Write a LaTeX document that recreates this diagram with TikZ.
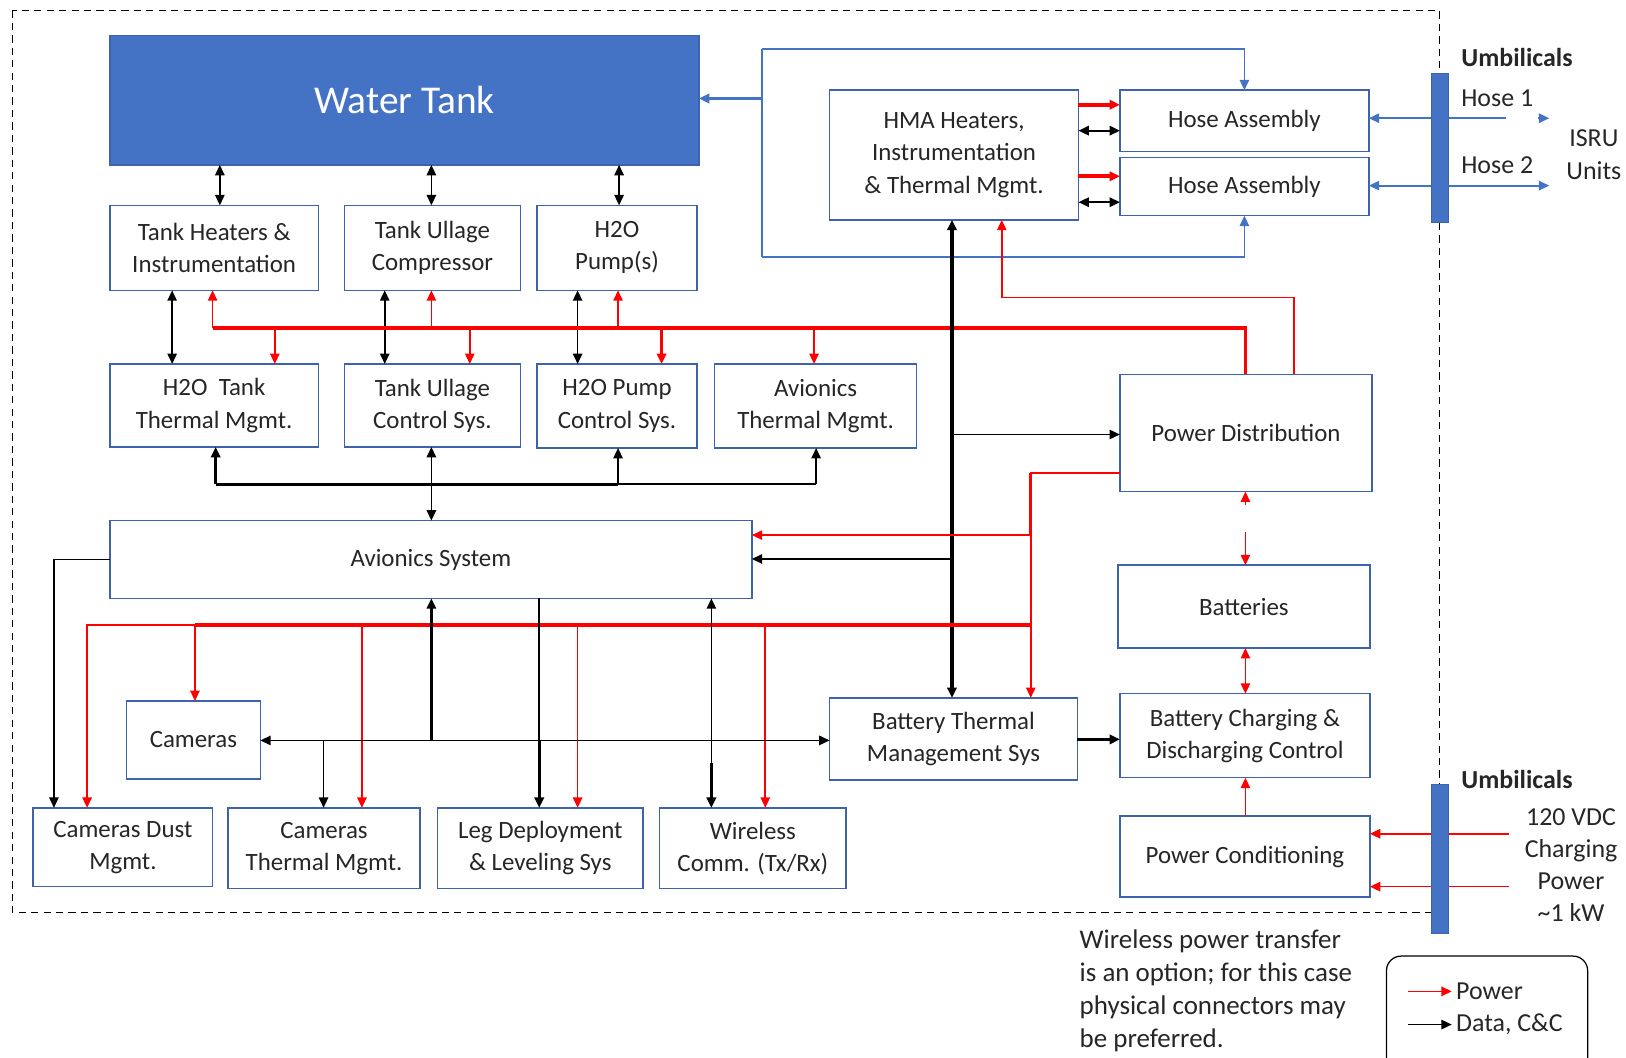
\documentclass[tikz,border=0pt]{standalone}
\usepackage{fontspec}
\setmainfont{Carlito}
\usetikzlibrary{arrows.meta}
\definecolor{boxblue}{RGB}{68,114,196}
\definecolor{edgeblue}{RGB}{62,98,172}
\definecolor{linkblue}{RGB}{68,114,196}
\definecolor{txt}{RGB}{38,38,38}
\definecolor{pwr}{RGB}{255,0,0}
\begin{document}
\begin{tikzpicture}[x=1pt,y=-1pt,
  >={Triangle[length=10pt,width=9pt]},
  box/.style={draw=edgeblue,line width=1.4pt,fill=white,align=center,inner sep=0pt,outer sep=0pt,text=txt,font=\fontsize{24}{31}\selectfont},
  blk/.style={draw=black,line width=1.6pt},
  blkT/.style={draw=black,line width=3pt},
  pw/.style={draw=pwr,line width=1.6pt},
  pwT/.style={draw=pwr,line width=3.5pt},
  bl/.style={draw=linkblue,line width=1.7pt},
  lbl/.style={text=txt,inner sep=0pt,font=\fontsize{25}{31}\selectfont},
  lblb/.style={text=txt,inner sep=0pt,font=\bfseries\fontsize{25}{31}\selectfont},
]
\useasboundingbox (0,0) rectangle (1568,1020);
\clip (0,0) rectangle (1568,1020);

% dashed enclosure
\draw[line width=1.5pt,dash pattern=on 7pt off 5pt] (12,10) rectangle (1388,880);

% boxes
\node[box,fill=boxblue,minimum width=568pt,minimum height=125pt,text=white,font=\fontsize{38}{44}\selectfont] (tank) at (390,96.5) {Water Tank};
\node[box,minimum width=201pt,minimum height=82pt] (heat) at (206.5,239) {Tank Heaters \&\\Instrumentation};
\node[box,minimum width=170pt,minimum height=82pt] (ucomp) at (417,239) {Tank Ullage\\Compressor};
\node[box,minimum width=154pt,minimum height=82pt] (pump) at (595,239) {H2O\\Pump(s)};
\node[box,minimum width=201pt,minimum height=80pt] (tthm) at (206.5,391) {H2O\ \ Tank\\Thermal Mgmt.};
\node[box,minimum width=170pt,minimum height=80pt] (uctl) at (417,391) {Tank Ullage\\Control Sys.};
\node[box,minimum width=154pt,minimum height=81pt] (pctl) at (595,391.5) {H2O Pump\\Control Sys.};
\node[box,minimum width=195pt,minimum height=81pt] (athm) at (786.5,391.5) {Avionics\\Thermal Mgmt.};
\node[box,minimum width=619pt,minimum height=75pt] (avio) at (415.5,539.5) {Avionics System};
\node[box,minimum width=129pt,minimum height=75pt] (cam) at (186.5,713.5) {Cameras};
\node[box,minimum width=173pt,minimum height=76pt] (cdust) at (118.5,817) {Cameras Dust\\Mgmt.};
\node[box,minimum width=185pt,minimum height=78pt] (cthm) at (312.5,818) {Cameras\\Thermal Mgmt.};
\node[box,minimum width=198pt,minimum height=78pt] (leg) at (521,818) {Leg Deployment\\\& Leveling Sys};
\node[box,minimum width=180pt,minimum height=78pt] (wire) at (726,818) {Wireless\\Comm. (Tx/Rx)};
\node[box,minimum width=239pt,minimum height=79pt] (bthm) at (919.5,712.5) {Battery Thermal\\Management Sys};
\node[box,minimum width=240pt,minimum height=125pt] (hma) at (920,149.5) {HMA Heaters,\\Instrumentation\\\& Thermal Mgmt.};
\node[box,minimum width=240pt,minimum height=59pt] (hose1) at (1200,116.5) {Hose Assembly};
\node[box,minimum width=240pt,minimum height=56pt] (hose2) at (1200,180) {Hose Assembly};
\node[box,minimum width=243pt,minimum height=113pt] (pdist) at (1201.5,417.5) {Power Distribution};
\node[box,minimum width=243pt,minimum height=80pt] (batt) at (1199.5,585) {Batteries};
\node[box,minimum width=241pt,minimum height=81pt] (bchg) at (1200.5,709.5) {Battery Charging \&\\Discharging Control};
\node[box,minimum width=241pt,minimum height=78pt] (pcon) at (1200.5,826) {Power Conditioning};

% umbilical bars (placeholders, filled later)
\node[minimum width=16pt,minimum height=143pt,inner sep=0pt] (ubar1) at (1389,142.5) {};
\node[minimum width=16pt,minimum height=143pt,inner sep=0pt] (ubar2) at (1389,828.5) {};

% helper coordinates
\coordinate (rb1) at (0,316);
\coordinate (rb2) at (0,603);
\coordinate (kb1) at (0,467);
\coordinate (kb2) at (0,714);
\coordinate (kb3) at (0,736);
\coordinate (vx) at (918,0);
\coordinate (rx) at (994,0);
\coordinate (bt) at (735,47);
\coordinate (bb) at (735,248);

% water tank <-> first row
\draw[blk,<->] (tank.south -| 212,0) -- (heat.north -| 212,0);
\draw[blk,<->] (tank.south -| 416,0) -- (ucomp.north -| 416,0);
\draw[blk,<->] (tank.south -| 597,0) -- (pump.north -| 597,0);

% first row <-> second row (data)
\draw[blk,<->] (heat.south -| 166,0) -- (tthm.north -| 166,0);
\draw[blk,<->] (ucomp.south -| 371,0) -- (uctl.north -| 371,0);
\draw[blk,<->] (pump.south -| 557,0) -- (pctl.north -| 557,0);

% upper power bus
\draw[pwT] (pdist.north -| 1201,0) -- (rb1 -| 1201,0) -- (rb1 -| 205,0);
\draw[pw,->] (rb1 -| 205,0) -- (heat.south -| 205,0);
\draw[pw,->] (rb1 -| 416,0) -- (ucomp.south -| 416,0);
\draw[pw,->] (rb1 -| 596,0) -- (pump.south -| 596,0);
\draw[pw,->] (rb1 -| 265,0) -- (tthm.north -| 265,0);
\draw[pw,->] (rb1 -| 453,0) -- (uctl.north -| 453,0);
\draw[pwT,->] (rb1 -| 638,0) -- (pctl.north -| 638,0);
\draw[pw,->] (rb1 -| 785,0) -- (athm.north -| 785,0);

% data tree below second row
\draw[blkT] (kb1 -| 208,0) -- (kb1 -| 596,0);
\draw[blk] (kb1 -| 596,0) -- (kb1 -| 787,0);
\draw[blkT,->] (kb1 -| 208,0) -- (tthm.south -| 208,0);
\draw[blk,->] (kb1 -| 416,0) -- (uctl.south -| 416,0);
\draw[blk,->] (kb1 -| 596,0) -- (pctl.south -| 596,0);
\draw[blk,->] (kb1 -| 787,0) -- (athm.south -| 787,0);
\draw[blk,->] (kb1 -| 416,0) -- (avio.north -| 416,0);

% blue water lines
\draw[bl] (bt) -- (bb);
\draw[bl,->] (bt) -- (bt -| hose1.north) -- (hose1.north);
\draw[bl,->] (bb) -- (bb -| hose2.south) -- (hose2.south);
\draw[bl,line width=3.2pt,->] (bt |- 0,95) -- (tank.east |- 0,95);

% HMA <-> hoses
\draw[pwT,->] (hma.east |- 0,101) -- (hose1.west |- 0,101);
\draw[blk,line width=2pt,<->] (hma.east |- 0,126) -- (hose1.west |- 0,126);
\draw[pwT,->] (hma.east |- 0,170) -- (hose2.west |- 0,170);
\draw[blk,line width=2pt,<->] (hma.east |- 0,195) -- (hose2.west |- 0,195);

% hoses to umbilicals / ISRU
\coordinate (h1end) at (1452,114);
\coordinate (h1tipA) at (1483,114);
\coordinate (h1tipB) at (1494,114);
\coordinate (h2end) at (1494,179);
\draw[bl,->] (ubar1.center |- 0,114) -- (hose1.east |- 0,114);
\draw[bl] (ubar1.center |- 0,114) -- (h1end);
\draw[bl,->] (h1tipA) -- (h1tipB);
\draw[bl,->] (ubar1.center |- 0,179) -- (hose2.east |- 0,179);
\draw[bl,->] (ubar1.center |- 0,179) -- (h2end);

% HMA vertical data trunk
\draw[blkT,<->] (hma.south -| vx) -- (bthm.north -| vx);
\draw[blk,->] (vx |- 0,419) -- (pdist.west |- 0,419);
\draw[blk,->] (vx |- 0,539) -- (avio.east |- 0,539);

% power distribution -> HMA
\draw[pw,->] (pdist.north -| 1248,0) -- (1248,287) -- (966,287) -- (hma.south -| 966,0);

% power distribution -> lower bus
\draw[pw,->] (pdist.west |- 0,456) -- (rx |- 0,456) -- (bthm.north -| rx);
\draw[pw,line width=2.6pt] (rx |- 0,456) -- (rx |- 0,516);
\draw[pw,->] (rx |- 0,516) -- (avio.east |- 0,516);
\draw[pwT] (rx |- rb2) -- (rb2 -| 188,0);
\draw[pw,->] (rb2 -| 188,0) -- (rb2 -| 84,0) -- (cdust.north -| 84,0);
\draw[pw,->] (rb2 -| 188,0) -- (cam.north -| 188,0);
\draw[pw,->] (rb2 -| 349,0) -- (cthm.north -| 349,0);
\draw[pw,->] (rb2 -| 557,0) -- (leg.north -| 557,0);
\draw[pw,->] (rb2 -| 738,0) -- (wire.north -| 738,0);

% lower data connections
\draw[blk,->] (avio.west) -| (cdust.north -| 52,0);
\draw[blkT,->] (kb2 -| 416,0) -- (avio.south -| 416,0);
\draw[blk,<->] (cam.east |- kb2) -- (bthm.west |- kb2);
\draw[blk,->] (kb2 -| 312,0) -- (cthm.north -| 312,0);
\draw[blk] (avio.south -| 520,0) -- (kb2 -| 520,0);
\draw[blkT,->] (kb2 -| 520,0) -- (leg.north -| 520,0);
\draw[blk,->] (kb3 -| 686,0) -- (avio.south -| 686,0);
\draw[blkT,->] (kb3 -| 686,0) -- (wire.north -| 686,0);
\draw[blkT,->] (bthm.east |- 0,713) -- (bchg.west |- 0,713);

% battery chain
\coordinate (gapA) at (1201,487);
\coordinate (gapB) at (1201,513);
\draw[pw,->] (gapA) -- (pdist.south -| gapA);
\draw[pw,->] (gapB) -- (batt.north -| gapB);
\draw[pw,<->] (batt.south -| 1201,0) -- (bchg.north -| 1201,0);
\draw[pw,->] (pcon.north -| 1201,0) -- (bchg.south -| 1201,0);

% charging umbilical
\coordinate (u1) at (1455,804);
\coordinate (u2) at (1455,855);
\draw[pw,->] (u1) -- (pcon.east |- u1);
\draw[pw,->] (u2) -- (pcon.east |- u2);

% umbilical bars
\fill[boxblue,draw=edgeblue,line width=0.8pt] (ubar1.south west) rectangle (ubar1.north east);
\fill[boxblue,draw=edgeblue,line width=0.8pt] (ubar2.south west) rectangle (ubar2.north east);

% labels
\node[lblb,anchor=west] (um1) at (1409,55) {Umbilicals};
\node[lbl,anchor=west] (hl1) at (1409,95) {Hose 1};
\node[lbl,anchor=west] (hl2) at (1409,159) {Hose 2};
\node[lbl,align=center,font=\fontsize{25}{32}\selectfont] (isru) at (1537,149) {ISRU\\Units};
\node[lblb,anchor=west] (um2) at (1409,752) {Umbilicals};
\node[lbl,align=center] (chg) at (1515,834) {120 VDC\\Charging\\Power\\\textasciitilde 1 kW};

\node[lbl,font=\fontsize{26}{32}\selectfont,align=left,anchor=north west] (note) at (1041,896) {Wireless power transfer\\is an option; for this case\\physical connectors may\\be preferred.};

% legend
\draw[line width=1.2pt,rounded corners=14pt] (1337,922) rectangle (1531,1050);
\coordinate (lg1a) at (1358,956);
\coordinate (lg1b) at (1400,956);
\coordinate (lg2a) at (1358,988);
\coordinate (lg2b) at (1400,988);
\draw[pw,->] (lg1a) -- (lg1b);
\draw[blk,->] (lg2a) -- (lg2b);
\node[lbl,anchor=west] (lgp) at (1404,956) {Power};
\node[lbl,anchor=west] (lgd) at (1404,988) {Data, C\&C};
\end{tikzpicture}
\end{document}
